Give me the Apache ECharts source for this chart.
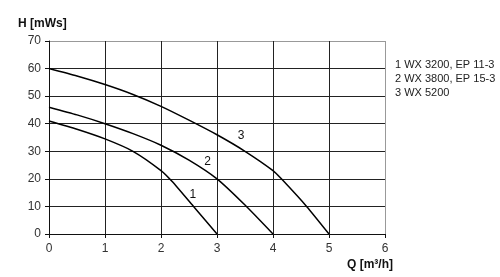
<!DOCTYPE html>
<html><head><meta charset="utf-8">
<script src="https://cdn.jsdelivr.net/npm/echarts@6/dist/echarts.min.js"></script>
<style>html,body{margin:0;padding:0;background:#fff}#c{width:500px;height:277px}</style>
</head><body><div id="c"></div>
<script>
const xTicks = [0,1,2,3,4,5,6];
const yTicks = [0,10,20,30,40,50,60,70];
const curve1 = [[0,41],[0.5,38],[1,34.5],[1.5,30],[2,23],[2.2,19],[2.6,9.5],[3,0]];
const curve2 = [[0,46],[0.5,43.2],[1,40],[1.5,36.4],[2,32.2],[2.5,26.8],[3,20],[3.5,10.5],[4,0]];
const curve3 = [[0,60],[0.5,57.3],[1,54.2],[1.5,50.6],[2,46.3],[2.5,41.3],[3,36],[3.5,30],[4,23],[4.15,20],[4.6,10],[5,0]];
const curveNames = ['1 WX 3200, EP 11-3','2 WX 3800, EP 15-3','3 WX 5200'];
const curveTags = ['1','2','3'];
const tagPos = [[2.57,14.2],[2.83,26.3],[3.43,35.7]];
const xTitle = 'Q [m³/h]';
const yTitle = 'H [mWs]';

const font = 'Arial, "Liberation Sans", sans-serif';
const chart = echarts.init(document.getElementById('c'));
const datas = [curve1, curve2, curve3];
const ySplit = yTicks.map((v,i)=> i===yTicks.length-1 ? '#999' : '#222');
const xSplit = xTicks.map((v,i)=> i===xTicks.length-1 ? '#999' : '#222');
chart.setOption({
  animation:false,
  grid:{left:49,right:115,top:41,bottom:43,containLabel:false},
  legend:{orient:'vertical',left:385,top:54,itemWidth:0,itemHeight:0,itemGap:3,icon:'none',
    selectedMode:false,textStyle:{fontFamily:font,fontSize:11,color:'#222',padding:[0,0,0,0]},
    data:curveNames},
  xAxis:{type:'value',min:0,max:6,interval:1,
    axisLine:{show:true,lineStyle:{color:'#111',width:1}},
    axisTick:{show:true,length:4,lineStyle:{color:'#111'}},
    axisLabel:{margin:9,fontFamily:font,fontSize:12,color:'#333'},
    splitLine:{show:true,lineStyle:{color:xSplit,width:1}}},
  yAxis:{type:'value',min:0,max:70,interval:10,
    axisLine:{show:true,lineStyle:{color:'#111',width:1}},
    axisTick:{show:true,length:4,lineStyle:{color:'#111'}},
    axisLabel:{margin:8,fontFamily:font,fontSize:12,color:'#333'},
    splitLine:{show:true,lineStyle:{color:ySplit,width:1}}},
  graphic:[
    {type:'text',left:18,top:18,style:{text:yTitle,font:'bold 12px '+font,fill:'#111'}},
    {type:'text',right:107,top:259,style:{text:xTitle,font:'bold 12px '+font,fill:'#111'}}
  ],
  series: datas.map((d,i)=>({
    name:curveNames[i],type:'line',data:d,smooth:0.2,showSymbol:false,symbol:'none',
    lineStyle:{color:'#000',width:1.5},itemStyle:{color:'#000'},
    markPoint:{symbol:'circle',symbolSize:0,silent:true,
      label:{show:true,position:'inside',formatter:curveTags[i],fontFamily:font,fontSize:12,color:'#111'},
      data:[{coord:tagPos[i]}]}
  }))
});
</script></body></html>
